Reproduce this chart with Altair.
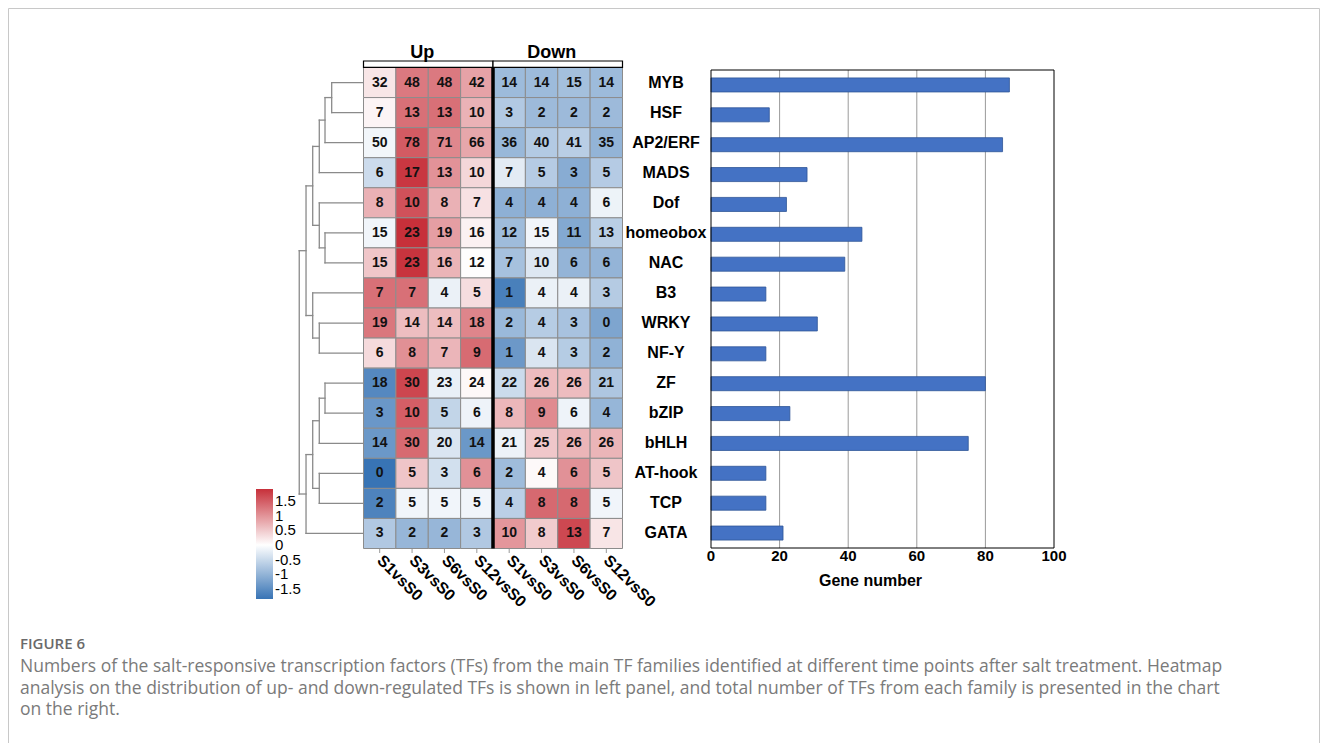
import altair as alt
import pandas as pd

# ---------------- data ----------------
families = ["MYB", "HSF", "AP2/ERF", "MADS", "Dof", "homeobox", "NAC", "B3",
            "WRKY", "NF-Y", "ZF", "bZIP", "bHLH", "AT-hook", "TCP", "GATA"]
comparisons = ["S1vsS0", "S3vsS0", "S6vsS0", "S12vsS0"]
groups = ["Up", "Down"]
up_counts = [
    [32, 48, 48, 42], [7, 13, 13, 10], [50, 78, 71, 66], [6, 17, 13, 10],
    [8, 10, 8, 7], [15, 23, 19, 16], [15, 23, 16, 12], [7, 7, 4, 5],
    [19, 14, 14, 18], [6, 8, 7, 9], [18, 30, 23, 24], [3, 10, 5, 6],
    [14, 30, 20, 14], [0, 5, 3, 6], [2, 5, 5, 5], [3, 2, 2, 3],
]
down_counts = [
    [14, 14, 15, 14], [3, 2, 2, 2], [36, 40, 41, 35], [7, 5, 3, 5],
    [4, 4, 4, 6], [12, 15, 11, 13], [7, 10, 6, 6], [1, 4, 4, 3],
    [2, 4, 3, 0], [1, 4, 3, 2], [22, 26, 26, 21], [8, 9, 6, 4],
    [21, 25, 26, 26], [2, 4, 6, 5], [4, 8, 8, 5], [10, 8, 13, 7],
]
total_genes = [87, 17, 85, 28, 22, 44, 39, 16, 31, 16, 80, 23, 75, 16, 16, 21]
bar_ticks = [0, 20, 40, 60, 80, 100]
legend_ticks = [1.5, 1, 0.5, 0, -0.5, -1, -1.5]
# hierarchical clustering of rows: (child a, child b, merge height)
merges = [
    ("MYB", "HSF", 3.0), ("m1", "AP2/ERF", 3.63), ("m2", "MADS", 4.17),
    ("homeobox", "NAC", 3.63), ("Dof", "m4", 4.17), ("m3", "m5", 4.79),
    ("WRKY", "NF-Y", 4.17), ("B3", "m7", 4.79), ("m6", "m8", 5.42),
    ("ZF", "bZIP", 3.63), ("m10", "bHLH", 4.17), ("AT-hook", "TCP", 4.17),
    ("m11", "m12", 4.79), ("m13", "GATA", 5.42), ("m9", "m14", 6.06),
]
figure_label = "FIGURE 6"
caption_lines = [
    "Numbers of the salt-responsive transcription factors (TFs) from the main TF families identified at different time points after salt treatment. Heatmap",
    "analysis on the distribution of up- and down-regulated TFs is shown in left panel, and total number of TFs from each family is presented in the chart",
    "on the right.",
]

FONT = "Arial, Liberation Sans, sans-serif"
CAP_FONT = "Open Sans, Lato, sans-serif"
n_rows = len(families)
n_cols = len(groups) * len(comparisons)

# ---------------- tables ----------------
heat_rows = []
for i, fam in enumerate(families):
    for g, vals in zip(groups, [up_counts[i], down_counts[i]]):
        for j, comp in enumerate(comparisons):
            col = groups.index(g) * len(comparisons) + j
            heat_rows.append(dict(family=fam, row=i, row1=i + 1, rowc=i + 0.5,
                                  col=col, col1=col + 1, colc=col + 0.5,
                                  n=vals[j]))
heat_df = pd.DataFrame(heat_rows)

col_df = pd.DataFrame([dict(label=c, colc=k + 0.5)
                       for k, c in enumerate(comparisons * len(groups))])
row_df = pd.DataFrame([dict(family=f, rowc=i + 0.5) for i, f in enumerate(families)])
head_df = pd.DataFrame([dict(group=g, start=k * len(comparisons),
                             end=(k + 1) * len(comparisons),
                             mid=(k + 0.5) * len(comparisons))
                        for k, g in enumerate(groups)])
div_df = pd.DataFrame([dict(x=len(comparisons), y0=0, y1=n_rows)])

# dendrogram segments
node_y = {f: i + 0.5 for i, f in enumerate(families)}
node_h = {f: 0.0 for f in families}
segs = []
for k, (a, b, h) in enumerate(merges):
    ya, yb = node_y[a], node_y[b]
    segs.append(dict(x=h, x2=h, y=ya, y2=yb))
    segs.append(dict(x=node_h[a], x2=h, y=ya, y2=ya))
    segs.append(dict(x=node_h[b], x2=h, y=yb, y2=yb))
    node_y[f"m{k+1}"] = (ya + yb) / 2
    node_h[f"m{k+1}"] = h
dendro_df = pd.DataFrame(segs)

bar_df = pd.DataFrame(dict(family=families, total=total_genes))
tick_df = pd.DataFrame(dict(t=bar_ticks))
grid_df = pd.DataFrame(dict(t=bar_ticks[1:-1], y0=0, y1=1))
frame_df = pd.DataFrame([dict(x0=min(bar_ticks), x1=max(bar_ticks), y0=0, y1=1,
                              mid=(min(bar_ticks) + max(bar_ticks)) / 2)])
cap_df = pd.DataFrame(dict(line=caption_lines, k=list(range(len(caption_lines)))))
one = alt.Data(values=[{"a": 1}])


# ---------------- scales ----------------
def heat_x():
    return alt.Scale(domain=[0, n_cols], range=[355.5, 614.5], nice=False, zero=False)


def rows_y():
    return alt.Scale(domain=[0, n_rows], range=[59.5, 540.5], nice=False, zero=False)


def bar_x():
    return alt.Scale(domain=[0, 100], range=[703, 1046], nice=False, zero=False)


# ---------------- border ----------------
border = alt.layer(
    alt.Chart(one).mark_rule(color="#c8c8c8", strokeWidth=1).encode(
        x=alt.value(0.5), x2=alt.value(1311.5), y=alt.value(0.5), y2=alt.value(0.5)),
    alt.Chart(one).mark_rule(color="#c8c8c8", strokeWidth=1).encode(
        x=alt.value(0.5), x2=alt.value(0.5), y=alt.value(0.5), y2=alt.value(735)),
    alt.Chart(one).mark_rule(color="#c8c8c8", strokeWidth=1).encode(
        x=alt.value(1311.5), x2=alt.value(1311.5), y=alt.value(0.5), y2=alt.value(735)),
)

# ---------------- dendrogram ----------------
dendro = alt.Chart(dendro_df).mark_rule(color="#8a8a8a", strokeWidth=1.3, strokeCap="square").encode(
    x=alt.X("x:Q", scale=alt.Scale(domain=[0, 6.3], range=[355.5, 288.7], nice=False, zero=False), axis=None),
    x2="x2:Q",
    y=alt.Y("y:Q", scale=rows_y(), axis=None),
    y2="y2:Q",
)

# ---------------- heatmap ----------------
hbase = alt.Chart(heat_df).transform_joinaggregate(
    mu="mean(n)", sd="stdev(n)", groupby=["family"]
).transform_calculate(z="(datum.n - datum.mu) / datum.sd")

cells = hbase.mark_rect(stroke="#8c8c8c", strokeWidth=1).encode(
    x=alt.X("col:Q", scale=heat_x(), axis=None),
    x2="col1:Q",
    y=alt.Y("row:Q", scale=rows_y(), axis=None),
    y2="row1:Q",
    color=alt.Color(
        "z:Q", title=None,
        scale=alt.Scale(domainMid=0, range=["#3874B5", "#FFFFFF", "#C7303A"], interpolate="rgb"),
        legend=alt.Legend(orient="none", legendX=248, legendY=481, direction="vertical",
                          gradientLength=110, gradientThickness=17, values=legend_ticks,
                          labelFont=FONT, labelFontSize=15, labelColor="#000000",
                          labelOffset=2, labelOverlap=False, gradientStrokeWidth=0,
                          labelExpr="'' + datum.value"),
    ),
)
cell_text = hbase.mark_text(font=FONT, fontSize=14, fontWeight="bold", color="#111111").encode(
    x=alt.X("colc:Q", scale=heat_x(), axis=None),
    y=alt.Y("rowc:Q", scale=rows_y(), axis=None),
    text="n:Q",
)
divider = alt.Chart(div_df).mark_rule(color="#000000", strokeWidth=3.5).encode(
    x=alt.X("x:Q", scale=heat_x(), axis=None),
    y=alt.Y("y0:Q", scale=rows_y(), axis=None),
    y2="y1:Q",
)
head_box = alt.Chart(head_df).mark_rect(fill="#ffffff", stroke="#000000", strokeWidth=1.2).encode(
    x=alt.X("start:Q", scale=heat_x(), axis=None),
    x2="end:Q",
    y=alt.value(53),
    y2=alt.value(59.3),
)
head_text = alt.Chart(head_df).mark_text(font=FONT, fontSize=18, fontWeight="bold",
                                         baseline="alphabetic", dx=-6, color="#000000").encode(
    x=alt.X("mid:Q", scale=heat_x(), axis=None),
    y=alt.value(50.3),
    text="group:N",
)
col_ticks = alt.Chart(col_df).mark_rule(color="#999999", strokeWidth=1).encode(
    x=alt.X("colc:Q", scale=heat_x(), axis=None),
    y=alt.value(541),
    y2=alt.value(545),
)
col_text = alt.Chart(col_df).mark_text(font=FONT, fontSize=16, fontWeight="bold", angle=45,
                                       align="left", baseline="middle", color="#000000").encode(
    x=alt.X("colc:Q", scale=heat_x(), axis=None),
    y=alt.value(550),
    text="label:N",
)
row_text = alt.Chart(row_df).mark_text(font=FONT, fontSize=16, fontWeight="bold",
                                       align="center", baseline="middle", color="#000000").encode(
    x=alt.value(658),
    y=alt.Y("rowc:Q", scale=rows_y(), axis=None),
    text="family:N",
)
heat = alt.layer(cells, cell_text, divider, head_box, head_text, col_ticks, col_text, row_text)

# ---------------- bar chart ----------------
bars = alt.Chart(bar_df).mark_bar(color="#4472C4", stroke="#2F5597", strokeWidth=0.8).encode(
    x=alt.X("total:Q", scale=bar_x(), axis=None),
    y=alt.Y("family:N", sort=families, axis=None,
            scale=alt.Scale(domain=families, range=[62, 540], paddingInner=0.53, paddingOuter=0.265)),
)
frame_y = alt.Scale(domain=[0, 1], range=[62, 540], nice=False, zero=False)
grid = alt.Chart(grid_df).mark_rule(color="#9a9a9a", strokeWidth=1).encode(
    x=alt.X("t:Q", scale=bar_x(), axis=None),
    y=alt.Y("y0:Q", scale=frame_y, axis=None),
    y2="y1:Q",
)
frame = alt.Chart(frame_df).mark_rect(fill=None, fillOpacity=0, stroke="#000000", strokeWidth=1).encode(
    x=alt.X("x0:Q", scale=bar_x(), axis=None),
    x2="x1:Q",
    y=alt.Y("y0:Q", scale=frame_y, axis=None),
    y2="y1:Q",
)
tick_text = alt.Chart(tick_df).mark_text(font=FONT, fontSize=15, fontWeight="bold",
                                         baseline="middle", color="#000000").encode(
    x=alt.X("t:Q", scale=bar_x(), axis=None),
    y=alt.value(548),
    text="t:Q",
)
bar_title = alt.Chart(frame_df).mark_text(font=FONT, fontSize=16, fontWeight="bold",
                                          baseline="middle", dx=-12, color="#000000").encode(
    x=alt.X("mid:Q", scale=bar_x(), axis=None),
    y=alt.value(573),
    text=alt.value("Gene number"),
)
grid_layer = alt.layer(grid)
bar_layer = alt.layer(bars)
frame_layer = alt.layer(frame, tick_text, bar_title)

# ---------------- caption ----------------
fig_label = alt.Chart(one).mark_text(font=CAP_FONT, fontSize=15, fontWeight=600, align="left",
                                     baseline="middle", color="#6a6a6a").encode(
    x=alt.value(12), y=alt.value(636), text=alt.value(figure_label))
caption = alt.Chart(cap_df).mark_text(font=CAP_FONT, fontSize=17.5, align="left",
                                      baseline="middle", color="#7a7a7a").encode(
    x=alt.value(12),
    y=alt.Y("k:Q", scale=alt.Scale(domain=[0, 2], range=[659, 702], nice=False, zero=False), axis=None),
    text="line:N",
)

chart = alt.layer(
    border, dendro, heat, grid_layer, bar_layer, frame_layer, fig_label, caption
).resolve_scale(x="independent", y="independent").properties(
    width=1312, height=735, padding=0, autosize="none"
).configure_view(strokeWidth=0)

chart.save("out.html", embed_options={"renderer": "svg", "actions": False})
